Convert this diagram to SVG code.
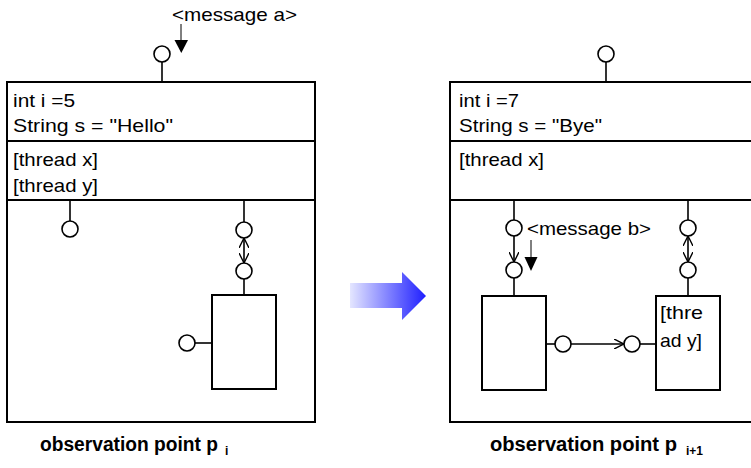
<svg xmlns="http://www.w3.org/2000/svg" width="751" height="468" viewBox="0 0 751 468">
  <defs>
    <linearGradient id="arrowFill" x1="0" y1="0" x2="1" y2="0">
      <stop offset="0" stop-color="#e4e6ff"/>
      <stop offset="1" stop-color="#1f1fff"/>
    </linearGradient>
    <!-- open V head used on port-to-port links -->
    <marker id="vhead" viewBox="0 0 10 10" refX="10" refY="5" markerWidth="10" markerHeight="10" markerUnits="userSpaceOnUse" orient="auto-start-reverse">
      <path d="M0,0 L10,5 L0,10" fill="none" stroke="#000" stroke-width="1.4"/>
    </marker>
  </defs>
  <style>
    .box { fill: #fff; stroke: #000; stroke-width: 2; }
    .div { stroke: #000; stroke-width: 2; }
    .port { fill: #fff; stroke: #000; stroke-width: 1.6; }
    .wire { stroke: #000; stroke-width: 1.6; fill: none; }
    .msg { stroke: #000; stroke-width: 1; fill: none; }
    .tri { fill: #000; }
    .t { font-family: "Liberation Sans", Arial, sans-serif; font-size: 18.5px; fill: #000; }
    .lbl { font-family: "Liberation Sans", Arial, sans-serif; font-size: 20px; font-weight: bold; fill: #000; }
    .sub { font-family: "Liberation Sans", Arial, sans-serif; font-size: 12px; font-weight: bold; fill: #000; }
  </style>
  <rect width="751" height="468" fill="#fff"/>

  <!-- observation point p_i -->
  <g id="state-pi">
    <rect class="box" x="7" y="82" width="308" height="340"/>
    <line class="div" x1="7" y1="141" x2="315" y2="141"/>
    <line class="div" x1="7" y1="200" x2="315" y2="200"/>
    <text class="t" x="13" y="107" textLength="62" lengthAdjust="spacingAndGlyphs">int i =5</text>
    <text class="t" x="13" y="132" textLength="160" lengthAdjust="spacingAndGlyphs">String s = "Hello"</text>
    <text class="t" x="13" y="166" textLength="85" lengthAdjust="spacingAndGlyphs">[thread x]</text>
    <text class="t" x="13" y="192" textLength="85" lengthAdjust="spacingAndGlyphs">[thread y]</text>
  </g>
  <g id="port-pi-top">
    <line class="wire" x1="162" y1="62" x2="162" y2="82"/>
    <circle class="port" cx="162" cy="54" r="8"/>
  </g>
  <g id="message-a">
    <text class="t" x="172" y="21" textLength="125" lengthAdjust="spacingAndGlyphs">&lt;message a&gt;</text>
    <line class="msg" x1="181" y1="24" x2="181" y2="41"/>
    <polygon class="tri" points="174.5,40 188,40 181.3,53"/>
  </g>
  <g id="port-pi-x">
    <line class="wire" x1="70" y1="200" x2="70" y2="221"/>
    <circle class="port" cx="70" cy="229" r="8"/>
  </g>
  <g id="port-pi-y-outer">
    <line class="wire" x1="244" y1="200" x2="244" y2="222"/>
    <circle class="port" cx="244" cy="230" r="8"/>
  </g>
  <g id="port-pi-y-inner">
    <circle class="port" cx="244" cy="271" r="8"/>
    <line class="wire" x1="244" y1="279" x2="244" y2="295"/>
  </g>
  <g id="thread-y-pi">
    <rect class="box" x="212" y="295" width="64" height="94"/>
  </g>
  <g id="port-pi-y-side">
    <circle class="port" cx="187" cy="343" r="8"/>
    <line class="wire" x1="195" y1="343" x2="212" y2="343"/>
  </g>

  <!-- transition arrow -->
  <g id="transition">
    <polygon points="350,283 402,283 402,272 426,296 402,320 402,308 350,308" fill="url(#arrowFill)"/>
  </g>

  <!-- observation point p_i+1 -->
  <g id="state-pi1">
    <rect class="box" x="450" y="82" width="320" height="340"/>
    <line class="div" x1="450" y1="141" x2="770" y2="141"/>
    <line class="div" x1="450" y1="200" x2="770" y2="200"/>
    <text class="t" x="459" y="107" textLength="60" lengthAdjust="spacingAndGlyphs">int i =7</text>
    <text class="t" x="459" y="132" textLength="143" lengthAdjust="spacingAndGlyphs">String s = "Bye"</text>
    <text class="t" x="459" y="166" textLength="85" lengthAdjust="spacingAndGlyphs">[thread x]</text>
  </g>
  <g id="port-pi1-top">
    <line class="wire" x1="606" y1="62" x2="606" y2="82"/>
    <circle class="port" cx="606" cy="54" r="8"/>
  </g>
  <g id="port-pi1-x-outer">
    <line class="wire" x1="514" y1="200" x2="514" y2="220"/>
    <circle class="port" cx="514" cy="228" r="8"/>
  </g>
  <g id="port-pi1-x-inner">
    <circle class="port" cx="514" cy="270" r="8"/>
    <line class="wire" x1="514" y1="278" x2="514" y2="296"/>
  </g>
  <g id="thread-x-pi1">
    <rect class="box" x="482" y="296" width="64" height="94"/>
  </g>
  <g id="message-b">
    <text class="t" x="527" y="235" textLength="124" lengthAdjust="spacingAndGlyphs">&lt;message b&gt;</text>
    <line class="msg" x1="531" y1="240" x2="531" y2="258"/>
    <polygon class="tri" points="524.5,257 537.5,257 531,271"/>
  </g>
  <g id="port-pi1-y-outer">
    <line class="wire" x1="688" y1="200" x2="688" y2="220"/>
    <circle class="port" cx="688" cy="228" r="8"/>
  </g>
  <g id="port-pi1-y-inner">
    <circle class="port" cx="688" cy="270" r="8"/>
    <line class="wire" x1="688" y1="278" x2="688" y2="296"/>
  </g>
  <g id="thread-y-pi1">
    <rect class="box" x="656" y="296" width="64" height="94"/>
    <text class="t" x="660" y="319" textLength="43" lengthAdjust="spacingAndGlyphs">[thre</text>
    <text class="t" x="660" y="347" textLength="42" lengthAdjust="spacingAndGlyphs">ad y]</text>
  </g>
  <g id="port-pi1-out">
    <line class="wire" x1="546" y1="344" x2="555" y2="344"/>
    <circle class="port" cx="563" cy="344" r="8"/>
  </g>
  <g id="port-pi1-in">
    <circle class="port" cx="632" cy="344" r="8"/>
    <line class="wire" x1="640" y1="344" x2="656" y2="344"/>
  </g>

  <!-- links between ports -->
  <g id="connectors">
    <line class="wire" x1="244" y1="238" x2="244" y2="263" marker-start="url(#vhead)" marker-end="url(#vhead)"/>
    <line class="wire" x1="514" y1="236" x2="514" y2="262" marker-end="url(#vhead)"/>
    <line class="wire" x1="688" y1="236" x2="688" y2="262" marker-start="url(#vhead)" marker-end="url(#vhead)"/>
    <line class="wire" x1="571" y1="344" x2="624" y2="344" marker-end="url(#vhead)"/>
  </g>

  <!-- captions -->
  <g id="caption-pi">
    <text class="lbl" x="40" y="451" textLength="178" lengthAdjust="spacingAndGlyphs">observation point p</text>
    <text class="sub" x="225" y="455">i</text>
  </g>
  <g id="caption-pi1">
    <text class="lbl" x="490" y="451" textLength="187" lengthAdjust="spacingAndGlyphs">observation point p</text>
    <text class="sub" x="686" y="455">i+1</text>
  </g>
</svg>
